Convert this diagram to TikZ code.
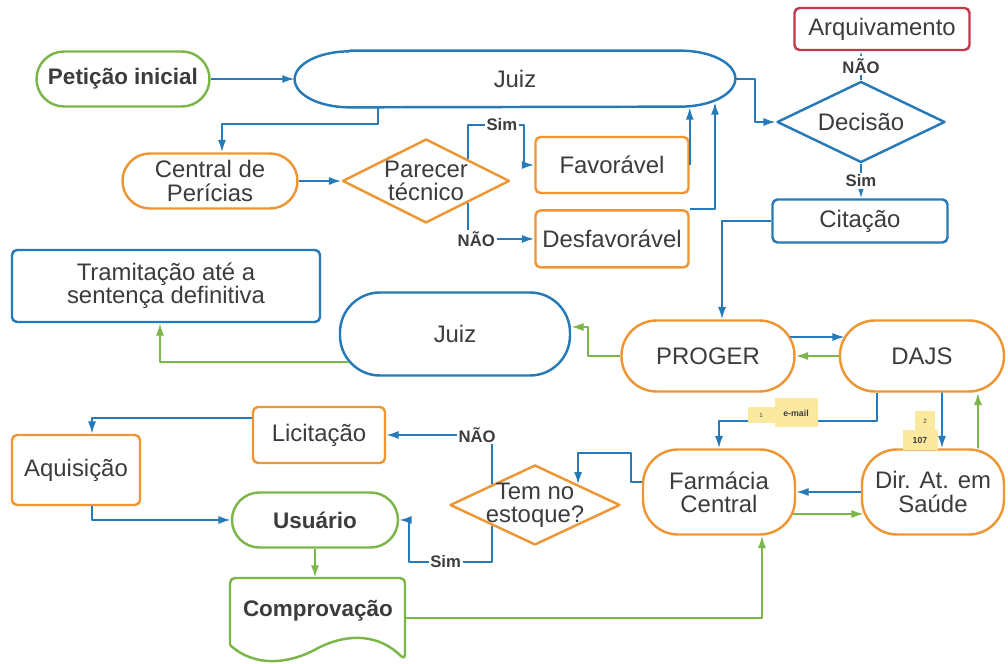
\documentclass[tikz,border=0pt]{standalone}
\usepackage{fontspec}
\setmainfont{Liberation Sans}
\usetikzlibrary{arrows.meta,calc,positioning,shapes.geometric}

\definecolor{flowblue}{RGB}{38,122,184}
\definecolor{flowgreen}{RGB}{122,182,72}
\definecolor{floworange}{RGB}{239,150,52}
\definecolor{flowred}{RGB}{192,58,78}
\definecolor{notey}{RGB}{252,233,160}
\definecolor{txt}{RGB}{60,60,60}

\newcommand{\nodefont}{\fontsize{13.6}{13.2}\selectfont}
\newcommand{\strongfont}{\bfseries\fontsize{12.8}{13.2}\selectfont}

\tikzset{
  box/.style={draw=#1, line width=1.4pt, rounded corners=0.1cm, align=center,
    text=txt, font=\nodefont, inner sep=2pt},
  choice/.style={diamond, draw=#1, line width=1.4pt, align=center, text=txt,
    font=\nodefont, shape aspect=2, inner sep=-6pt},
  bflow/.style={->, draw=flowblue, line width=1.1pt},
  gflow/.style={->, draw=flowgreen, line width=1.1pt},
  lbl/.style={font=\bfseries\fontsize{9.5}{11}\selectfont, text=txt, fill=white, inner sep=1pt},
  note/.style={fill=notey, text=txt, inner sep=0pt, font=\bfseries\fontsize{5}{6}\selectfont}
}

\begin{document}
\begin{tikzpicture}[x=0.2mm, y=-0.2mm, >={Latex[length=7pt,width=4.6pt]}, line join=round]
  \path[use as bounding box, fill=white] (0,0) rectangle (1008,664);

  % nodes
  \node[box=flowgreen, rounded corners=0.55cm, minimum width=3.46cm, minimum height=1.1cm, font=\strongfont] (peticao) at (123,79) {Petição inicial};
  \node[minimum width=8.8cm, minimum height=1.12cm, text=txt, font=\nodefont] (juizA) at (515,79) {Juiz};
  \node[box=flowred, minimum width=3.5cm, minimum height=0.84cm] (arquivo) at (882,29) {Arquivamento};
  \node[choice=flowblue, minimum width=3.36cm, minimum height=1.62cm] (decisao) at (861,122) {Decisão};
  \node[box=flowblue, minimum width=3.5cm, minimum height=0.86cm] (citacao) at (860,221) {Citação};
  \node[box=floworange, rounded corners=0.55cm, minimum width=3.5cm, minimum height=1.1cm] (central) at (210,181) {Central de\\Perícias};
  \node[choice=floworange, minimum width=3.34cm, minimum height=1.68cm] (parecer) at (426,181) {Parecer\\técnico};
  \node[box=floworange, minimum width=3.06cm, minimum height=1.12cm] (favoravel) at (612,165) {Favorável};
  \node[box=floworange, minimum width=3.06cm, minimum height=1.14cm, below=0.3cm of favoravel] (desfavoravel) {Desfavorável};
  \node[box=flowblue, minimum width=6.16cm, minimum height=1.44cm] (tramitacao) at (166,286) {Tramitação até a\\sentença definitiva};
  \node[box=flowblue, rounded corners=0.8cm, minimum width=4.6cm, minimum height=1.66cm] (juizB) at (455,334) {Juiz};
  \node[box=floworange, rounded corners=0.7cm, minimum width=3.46cm, minimum height=1.42cm] (proger) at (708,356) {PROGER};
  \node[box=floworange, rounded corners=0.7cm, minimum width=3.28cm, minimum height=1.42cm, right=0.86cm of proger] (dajs) {DAJS};
  \node[box=floworange, rounded corners=0.7cm, minimum width=3.04cm, minimum height=1.7cm] (farmacia) at (719,492) {Farmácia\\Central};
  \node[box=floworange, rounded corners=0.7cm, minimum width=2.84cm, minimum height=1.7cm] (dir) at (933,492) {Dir. At. em\\Saúde};
  \node[box=floworange, minimum width=2.64cm, minimum height=1.12cm] (licitacao) at (319,435) {Licitação};
  \node[box=floworange, minimum width=2.56cm, minimum height=1.4cm] (aquisicao) at (76,470) {Aquisição};
  \node[box=flowgreen, rounded corners=0.55cm, minimum width=3.32cm, minimum height=1.1cm, font=\strongfont] (usuario) at (315,520) {Usuário};
  \node[choice=floworange, minimum width=3.4cm, minimum height=1.6cm] (estoque) at (535,505) {Tem no\\estoque?};
  \node[minimum width=3.5cm, minimum height=1.32cm, text=txt, font=\strongfont] (comprov) at (318,611) {Comprovação};

  % outlines of the long judge node and the document
  \draw[flowblue, line width=1.4pt] ([xshift=1.1cm]juizA.north west) -- ([xshift=-1.1cm]juizA.north east)
    arc[start angle=90, end angle=-90, x radius=1.1cm, y radius=0.56cm] -- ([xshift=1.1cm]juizA.south west)
    arc[start angle=270, end angle=90, x radius=1.1cm, y radius=0.56cm] -- cycle;
  \draw[flowgreen, line width=1.4pt, rounded corners=0.1cm] (230,645) -- (230,578) -- (405,578) -- (405,660)
    [sharp corners] .. controls (380,635) and (350,632) .. (318,648) .. controls (290,664) and (255,668) .. (230,645);

  % connectors
  \draw[bflow] (peticao.east) -- (peticao.east -| juizA.west);
  \draw[bflow] ($(juizA.south)+(-137,0)$) -- ++(0,17) -| ($(central.north)+(12,0)$);
  \draw[bflow] (central.east) -- (central.east -| parecer.west);
  \draw[bflow] (parecer.north east) |- node[lbl, pos=0.8] {Sim} ($(favoravel.west)+(-10,-40)$) -- ($(favoravel.west)+(-10,0)$) -- (favoravel.west);
  \draw[bflow] (parecer.south east) |- node[lbl, pos=0.56] {NÃO} (desfavoravel.west);
  \draw[bflow] (favoravel.east) -- (favoravel.east |- juizA.south);
  \draw[bflow] (desfavoravel.north east) -| ($(juizA.south)+(200,-5)$);
  \draw[bflow] (juizA.east) -- ++(20,0) |- (decisao.west);
  \draw[bflow] (decisao.north) -- node[lbl] {NÃO} (decisao.north |- arquivo.south);
  \draw[bflow] (decisao.south) -- node[lbl] {Sim} (decisao.south |- citacao.north);
  \draw[bflow] (citacao.west) -| ($(proger.north)+(14,0)$);
  \draw[gflow] (proger.west) -- ++(-32,0) |- ($(juizB.east)+(0,-7)$);
  \draw[gflow] ($(juizB.west)+(10,28)$) -| ($(tramitacao.south)+(-6,0)$);
  \draw[bflow] ($(proger.east)+(-6,-19)$) -- ($(dajs.west)+(6,-19)$);
  \draw[gflow] (dajs.west) -- (proger.east);
  \draw[bflow] ($(dajs.south)+(-45,0)$) -- ++(0,28) -| (farmacia.north);
  \draw[bflow] ($(dajs.south)+(20,0)$) -- ($(dir.north)+(9,0)$);
  \draw[gflow] ($(dir.north)+(45,0)$) -- ($(dajs.south)+(56,0)$);
  \draw[bflow] (dir.west) -- (farmacia.east);
  \draw[gflow] ($(farmacia.east)+(-3,22)$) -- ($(dir.west)+(3,22)$);
  \draw[bflow] ($(farmacia.west)+(0,-10)$) -- ++(-11,0) -- ++(0,-29) -| (estoque.north east);
  \draw[bflow] (estoque.north west) |- node[lbl, pos=0.57] {NÃO} (licitacao.east);
  \draw[bflow] (estoque.south west) |- node[lbl, pos=0.78] {Sim} ($(usuario.east)+(10,42)$) |- (usuario.east);
  \draw[bflow] ($(licitacao.west)+(0,-17)$) -| ($(aquisicao.north)+(16,0)$);
  \draw[bflow] ($(aquisicao.south)+(16,0)$) |- (usuario.west);
  \draw[gflow] (usuario.south) -- (usuario.south |- comprov.north);
  \draw[gflow] ($(comprov.east)+(0,7)$) -| ($(farmacia.south)+(43,0)$);

  % sticky notes
  \node[note, minimum width=0.54cm, minimum height=0.32cm, font=\fontsize{3.5}{4}\selectfont] (noteone) at (761,415) {1};
  \node[note, minimum width=0.86cm, minimum height=0.58cm] (notemail) at (796,413) {e-mail};
  \node[note, minimum width=0.4cm, minimum height=0.38cm, font=\fontsize{3.5}{4}\selectfont] (notetwo) at (925,421) {2};
  \node[note, minimum width=0.7cm, minimum height=0.4cm] (notenum) at (920,440) {107};
\end{tikzpicture}
\end{document}
